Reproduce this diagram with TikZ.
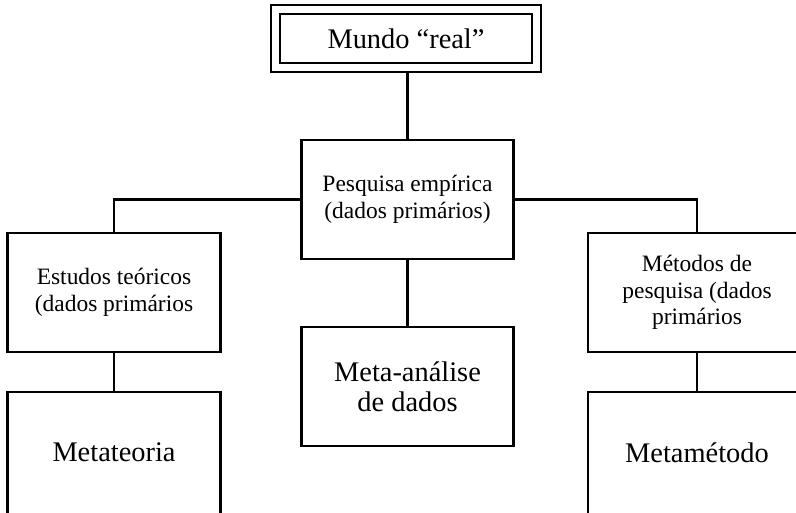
\documentclass[tikz,border=0pt]{standalone}
\usepackage{fontspec}
\setmainfont{Liberation Serif}
\begin{document}
\begin{tikzpicture}[x=0.75pt,y=-0.75pt,
  box/.style={draw=black, line width=1.65pt, fill=white, rectangle, inner sep=0pt, outer sep=0pt, align=center},
  small/.style={font=\fontsize{17.6pt}{20pt}\selectfont},
  big/.style={font=\fontsize{21.3pt}{22.5pt}\selectfont},
  conn/.style={draw=black, line width=1.65pt}]
\useasboundingbox (0,0) rectangle (796,512);
\clip (0,0) rectangle (796,512);
% nodes
\node[box, big, minimum width=202.5pt, minimum height=50.25pt] (mundo) at (406,38.5) {Mundo “real”};
\draw[line width=1.65pt] ([shift={(9,9)}]mundo.north west) rectangle ([shift={(-9,-9)}]mundo.south east);
\node[box, small, minimum width=159pt, minimum height=89.25pt] (pesq) at (407.5,199.5) {Pesquisa empírica\\(dados primários)};
\node[box, small, minimum width=159.75pt, minimum height=89.25pt] (estudos) at (114,292.5) {Estudos teóricos\\(dados primários};
\node[box, small, minimum width=163.5pt, minimum height=89.25pt] (metodos) at (697,292.5) {Métodos de\\pesquisa (dados\\primários};
\node[box, big, minimum width=159pt, minimum height=89.25pt] (metaan) at (407.5,386.5) {Meta-análise\\de dados};
\node[box, big, minimum width=159.75pt, minimum height=96pt] (metateoria) at (114,456) {\raisebox{5.25pt}{Metateoria}};
\node[box, big, minimum width=163.5pt, minimum height=96pt] (metametodo) at (697,456) {\raisebox{5.25pt}{Metamétodo}};
% connectors
\draw[conn] (pesq.north |- mundo.south) -- (pesq.north);
\draw[conn] (pesq.west) -| (estudos.north);
\draw[conn] (pesq.east) -| (metodos.north);
\draw[conn] (pesq.south) -- (metaan.north);
\draw[conn] (estudos.south) -- (metateoria.north);
\draw[conn] (metodos.south) -- (metametodo.north);
\end{tikzpicture}
\end{document}
